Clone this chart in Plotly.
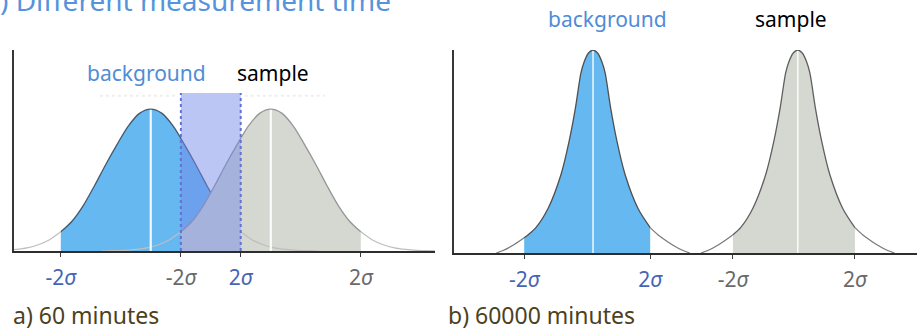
import plotly.graph_objects as go

W, H = 917, 332

# ---------------- data ----------------
series_names = ["background", "sample"]

# panel a: 60 minutes (x in units of the background sigma)
a_means = [3.04, 5.71]
a_peak = 0.706
a_offsets = [0, 0.25, 0.5, 0.75, 1.0, 1.25, 1.5, 1.75, 2.0, 2.25, 2.5, 2.75, 3.0, 3.25, 3.5, 3.75]
a_profile = [1.0, 0.97, 0.88, 0.75, 0.61, 0.46, 0.32, 0.21, 0.135, 0.08, 0.044, 0.022, 0.011, 0.005, 0.002, 0.0]
a_ticks = [[1.04, 5.04], [3.71, 7.71]]
a_range = [0, 9.36]

# panel b: 60000 minutes
b_means = [3.09, 7.64]
b_peak = 1.0
b_offsets = [0, 0.1, 0.2, 0.27, 0.39, 0.53, 0.71, 1.0, 1.27, 1.44, 1.53, 1.75, 2.0, 2.15]
b_profile = [1.0, 0.985, 0.94, 0.886, 0.716, 0.552, 0.388, 0.219, 0.125, 0.09, 0.075, 0.042, 0.012, 0.0]
b_ticks = [[1.56, 4.36], [6.20, 8.91]]
b_range = [0, 10.29]

tick_labels = ["-2<i>σ</i>", "2<i>σ</i>"]
panel_titles = ["a) 60 minutes", "b) 60000 minutes"]
main_title = ") Different measurement time"

# ---------------- styles ----------------
FONT = "Noto Sans"
fill_cols = ["rgb(102,184,240)", "rgb(212,216,208)"]
label_cols = ["rgb(80,140,215)", "rgb(0,0,0)"]
tick_cols = ["rgb(70,100,180)", "rgb(105,105,105)"]


def curve(mean, offsets, profile, peak):
    xs = [mean - o for o in reversed(offsets[1:])] + [mean + o for o in offsets]
    ys = [peak * p for p in reversed(profile[1:])] + [peak * p for p in profile]
    return xs, ys


def px(x):
    return x / W


def py(y):
    return (H - y) / H


fig = go.Figure()

panels = [
    dict(xa="x", ya="y", means=a_means, offs=a_offsets, prof=a_profile, peak=a_peak,
         ticks=a_ticks, outline=["rgb(70,88,108)", "rgb(150,150,150)"],
         tail="rgb(190,190,190)", mw=2.2),
    dict(xa="x2", ya="y2", means=b_means, offs=b_offsets, prof=b_profile, peak=b_peak,
         ticks=b_ticks, outline=["rgb(80,80,80)", "rgb(95,95,95)"],
         tail="rgb(120,120,120)", mw=1.5),
]

for p in panels:
    curves = [curve(m, p["offs"], p["prof"], p["peak"]) for m in p["means"]]
    # fills (within ±2σ)
    for i, (xs, ys) in enumerate(curves):
        lo, hi = p["ticks"][i]
        sub = [(x, y) for x, y in zip(xs, ys) if lo - 1e-6 <= x <= hi + 1e-6]
        fig.add_trace(go.Scatter(
            x=[s[0] for s in sub], y=[s[1] for s in sub], mode="lines",
            line=dict(color=p["outline"][i], width=1.3, shape="spline", smoothing=0.8),
            fill="tozeroy", fillcolor=fill_cols[i],
            xaxis=p["xa"], yaxis=p["ya"], hoverinfo="skip", showlegend=False))
    # tails outside ±2σ
    for i, (xs, ys) in enumerate(curves):
        lo, hi = p["ticks"][i]
        left = [(x, y) for x, y in zip(xs, ys) if x <= lo + 1e-6]
        right = [(x, y) for x, y in zip(xs, ys) if x >= hi - 1e-6]
        for seg in (left, right):
            fig.add_trace(go.Scatter(
                x=[s[0] for s in seg], y=[s[1] for s in seg], mode="lines",
                line=dict(color=p["tail"], width=1.2, shape="spline", smoothing=0.8),
                xaxis=p["xa"], yaxis=p["ya"], hoverinfo="skip", showlegend=False))
    # white mean lines
    for i, m in enumerate(p["means"]):
        fig.add_trace(go.Scatter(
            x=[m, m], y=[0, p["peak"] * 0.995], mode="lines",
            line=dict(color="rgba(255,255,255,0.9)", width=p["mw"]),
            xaxis=p["xa"], yaxis=p["ya"], hoverinfo="skip", showlegend=False))

# overlap band in panel a
band_lo, band_hi = a_ticks[1][0], a_ticks[0][1]
band_top = 0.786
fig.add_shape(type="rect", xref="x", yref="y", x0=band_lo, x1=band_hi, y0=0, y1=band_top,
              fillcolor="rgb(115,135,235)", opacity=0.48, line_width=0, layer="above")
for xv in (band_lo, band_hi):
    fig.add_shape(type="line", xref="x", yref="y", x0=xv, x1=xv, y0=0, y1=band_top,
                  line=dict(color="rgb(100,112,210)", width=2, dash="dot"), layer="above")
for x0, x1 in ((1.91, 3.64), (5.13, 6.91)):
    fig.add_shape(type="line", xref="x", yref="y", x0=x0, x1=x1, y0=0.772, y1=0.772,
                  line=dict(color="rgb(240,238,234)", width=2, dash="dot"), layer="below")


def tick_setup(ticks):
    vals, texts = [], []
    for i, (lo, hi) in enumerate(ticks):
        for v, t in ((lo, tick_labels[0]), (hi, tick_labels[1])):
            vals.append(v)
            texts.append('<span style="color:%s">%s</span>' % (tick_cols[i], t))
    order = sorted(range(len(vals)), key=lambda k: vals[k])
    return [vals[k] for k in order], [texts[k] for k in order]


axis_common = dict(showgrid=False, zeroline=False, showline=True, linecolor="rgb(45,45,45)",
                   linewidth=2, ticks="outside", ticklen=4, tickwidth=1, tickcolor="rgb(60,60,60)",
                   tickfont=dict(family=FONT, size=21, color="rgb(105,105,105)"),
                   ticklabelstandoff=3, fixedrange=True)
yaxis_common = dict(showgrid=False, zeroline=False, showline=True, linecolor="rgb(55,55,55)",
                    linewidth=2, showticklabels=False, ticks="", range=[0, 1], fixedrange=True)

av, at = tick_setup(a_ticks)
bv, bt = tick_setup(b_ticks)

fig.update_layout(
    width=W, height=H, margin=dict(l=0, r=0, t=0, b=0),
    paper_bgcolor="white", plot_bgcolor="rgba(0,0,0,0)",
    xaxis=dict(domain=[px(14), px(435)], range=a_range, tickvals=av, ticktext=at,
               anchor="y", **axis_common),
    yaxis=dict(domain=[py(251), py(50)], anchor="x", **yaxis_common),
    xaxis2=dict(domain=[px(454), 1.0], range=b_range, tickvals=bv, ticktext=bt,
                anchor="y2", **axis_common),
    yaxis2=dict(domain=[py(253), py(50)], anchor="x2", **yaxis_common),
    showlegend=False,
)

ann = []
# main (cut-off) title
ann.append(dict(text=main_title, x=px(-2), y=py(0), xref="paper", yref="paper",
                xanchor="left", yanchor="middle", showarrow=False,
                font=dict(family=FONT, size=28, color="rgb(85,148,220)")))
# series labels
label_pos = [[(146, 73), (273, 73)], [(607, 19), (791, 19)]]
for pos in label_pos:
    for i, (x, y) in enumerate(pos):
        ann.append(dict(text=series_names[i], x=px(x), y=py(y), xref="paper", yref="paper",
                        xanchor="center", yanchor="middle", showarrow=False,
                        font=dict(family=FONT, size=21, color=label_cols[i])))
# panel captions
for t, (x, y) in zip(panel_titles, [(11, 315), (446, 315)]):
    ann.append(dict(text=t, x=px(x), y=py(y), xref="paper", yref="paper",
                    xanchor="left", yanchor="middle", showarrow=False,
                    font=dict(family=FONT, size=23, color="rgb(75,65,35)")))
fig.update_layout(annotations=ann)

fig.write_html("out.html")
